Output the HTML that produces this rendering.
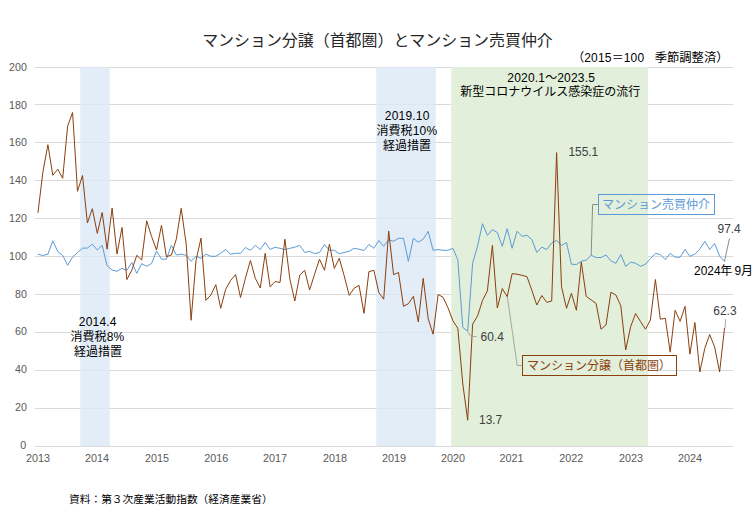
<!DOCTYPE html>
<html><head><meta charset="utf-8"><title>マンション分譲（首都圏）とマンション売買仲介</title>
<style>
html,body{margin:0;padding:0;background:#fff;}
svg{display:block;font-family:"Liberation Sans","Noto Sans CJK JP",sans-serif;}
</style></head><body>
<svg width="756" height="529" viewBox="0 0 756 529" role="img" aria-label="マンション分譲（首都圏）とマンション売買仲介">
<title>マンション分譲（首都圏）とマンション売買仲介</title>
<desc>（2015＝100　季節調整済） 2014.4 消費税8% 経過措置 / 2019.10 消費税10% 経過措置 / 2020.1～2023.5 新型コロナウイルス感染症の流行 / マンション売買仲介 97.4 (2024年9月) / マンション分譲（首都圏） 62.3 / 資料：第３次産業活動指数（経済産業省）</desc>
<rect width="756" height="529" fill="#ffffff"/>
<g style="opacity:0.999">
<g stroke="#d9d9d9" stroke-width="1" shape-rendering="crispEdges"><line x1="35.0" x2="733.0" y1="446.50" y2="446.50"/><line x1="35.0" x2="733.0" y1="408.50" y2="408.50"/><line x1="35.0" x2="733.0" y1="370.50" y2="370.50"/><line x1="35.0" x2="733.0" y1="332.50" y2="332.50"/><line x1="35.0" x2="733.0" y1="294.50" y2="294.50"/><line x1="35.0" x2="733.0" y1="256.50" y2="256.50"/><line x1="35.0" x2="733.0" y1="218.50" y2="218.50"/><line x1="35.0" x2="733.0" y1="180.50" y2="180.50"/><line x1="35.0" x2="733.0" y1="142.50" y2="142.50"/><line x1="35.0" x2="733.0" y1="104.50" y2="104.50"/><line x1="35.0" x2="733.0" y1="67.50" y2="67.50"/></g>
<rect x="80.2" y="67.0" width="29.6" height="379.0" fill="#dce8f6" fill-opacity="0.8"/>
<rect x="376.2" y="67.0" width="59.6" height="379.0" fill="#dce8f6" fill-opacity="0.8"/>
<rect x="451.2" y="67.0" width="196.7" height="379.0" fill="#e2efda"/>
<text x="26.3" y="448.70" font-size="10.67" fill="#595959" text-anchor="end">0</text>
<text x="26.9" y="410.91" font-size="10.67" fill="#595959" text-anchor="end">20</text>
<text x="26.9" y="373.12" font-size="10.67" fill="#595959" text-anchor="end">40</text>
<text x="26.9" y="335.33" font-size="10.67" fill="#595959" text-anchor="end">60</text>
<text x="26.9" y="297.54" font-size="10.67" fill="#595959" text-anchor="end">80</text>
<text x="26.9" y="259.75" font-size="10.67" fill="#595959" text-anchor="end">100</text>
<text x="26.9" y="221.96" font-size="10.67" fill="#595959" text-anchor="end">120</text>
<text x="26.9" y="184.17" font-size="10.67" fill="#595959" text-anchor="end">140</text>
<text x="26.9" y="146.38" font-size="10.67" fill="#595959" text-anchor="end">160</text>
<text x="26.9" y="108.59" font-size="10.67" fill="#595959" text-anchor="end">180</text>
<text x="26.9" y="70.80" font-size="10.67" fill="#595959" text-anchor="end">200</text>
<text x="37.90" y="462.2" font-size="10.8" fill="#595959" text-anchor="middle">2013</text>
<text x="97.10" y="462.2" font-size="10.8" fill="#595959" text-anchor="middle">2014</text>
<text x="157.00" y="462.2" font-size="10.8" fill="#595959" text-anchor="middle">2015</text>
<text x="216.20" y="462.2" font-size="10.8" fill="#595959" text-anchor="middle">2016</text>
<text x="275.10" y="462.2" font-size="10.8" fill="#595959" text-anchor="middle">2017</text>
<text x="335.00" y="462.2" font-size="10.8" fill="#595959" text-anchor="middle">2018</text>
<text x="393.90" y="462.2" font-size="10.8" fill="#595959" text-anchor="middle">2019</text>
<text x="452.90" y="462.2" font-size="10.8" fill="#595959" text-anchor="middle">2020</text>
<text x="511.60" y="462.2" font-size="10.8" fill="#595959" text-anchor="middle">2021</text>
<text x="571.20" y="462.2" font-size="10.8" fill="#595959" text-anchor="middle">2022</text>
<text x="631.00" y="462.2" font-size="10.8" fill="#595959" text-anchor="middle">2023</text>
<text x="690.00" y="462.2" font-size="10.8" fill="#595959" text-anchor="middle">2024</text>
<polyline points="38.0,254.2 42.9,255.5 47.9,254.2 52.8,240.8 57.8,251.7 62.7,255.3 67.6,265.3 72.6,257.0 77.5,252.6 82.5,248.2 87.4,248.0 92.3,244.3 97.3,250.0 102.2,245.4 107.1,265.8 112.1,270.0 117.0,271.3 122.0,268.3 126.9,270.3 131.8,262.5 136.8,273.3 141.7,263.7 146.7,266.3 151.6,263.5 156.5,251.0 161.5,259.2 166.4,259.2 171.4,245.3 176.3,255.0 181.2,254.2 186.2,255.3 191.1,261.3 196.0,256.3 201.0,258.3 205.9,254.2 210.9,256.3 215.8,256.3 220.7,253.3 225.7,249.5 230.6,254.2 235.6,253.3 240.5,253.3 245.4,247.5 250.4,250.3 255.3,245.3 260.3,249.5 265.2,242.5 270.1,249.4 275.1,247.3 280.0,248.3 284.9,249.5 289.9,248.3 294.8,247.2 299.8,245.3 304.7,252.5 309.6,251.3 314.6,253.7 319.5,252.5 324.5,244.5 329.4,250.3 334.3,250.3 339.3,253.7 344.2,252.5 349.2,251.2 354.1,248.3 359.0,249.2 364.0,250.5 368.9,244.5 373.9,248.3 378.8,240.5 383.7,246.3 388.7,239.7 393.6,241.3 398.5,238.3 403.5,238.3 408.4,261.3 413.4,238.3 418.3,242.2 423.2,239.2 428.2,231.3 433.1,250.3 438.1,249.5 443.0,250.3 447.9,250.3 452.9,248.3 457.8,259.7 462.8,327.5 467.7,331.2 472.6,263.3 477.6,245.8 482.5,223.7 487.4,235.3 492.4,229.7 497.3,232.5 502.3,246.3 507.2,228.7 512.1,248.3 517.1,231.3 522.0,236.3 527.0,235.3 531.9,239.7 536.8,252.5 541.8,247.2 546.7,249.5 551.7,243.0 556.6,240.3 561.5,245.5 566.5,242.5 571.4,264.2 576.4,264.5 581.3,261.3 586.2,260.0 591.2,255.3 596.1,257.5 601.0,257.5 606.0,255.0 610.9,260.8 615.9,263.3 620.8,254.5 625.7,266.3 630.7,262.2 635.6,263.3 640.6,266.3 645.5,264.2 650.4,258.7 655.4,253.3 660.3,254.5 665.3,259.5 670.2,253.3 675.1,257.2 680.1,257.2 685.0,249.4 689.9,256.4 694.9,254.2 699.8,249.0 704.8,241.3 709.7,249.4 714.6,243.4 719.6,256.0 724.5,261.4" fill="none" stroke="#5b9bd5" stroke-width="1.0" stroke-linejoin="round" stroke-linecap="round"/>
<polyline points="38.0,212.5 42.9,172.0 47.9,144.7 52.8,175.3 57.8,169.2 62.7,178.3 67.6,126.2 72.6,112.5 77.5,191.3 82.5,175.5 87.4,223.0 92.3,208.7 97.3,233.3 102.2,212.5 107.1,249.2 112.1,208.0 117.0,254.0 122.0,227.5 126.9,279.6 131.8,270.2 136.8,255.3 141.7,260.0 146.7,220.8 151.6,236.5 156.5,250.0 161.5,225.3 166.4,256.7 171.4,255.0 176.3,239.2 181.2,208.3 186.2,244.0 191.1,320.3 196.0,260.5 201.0,238.2 205.9,300.3 210.9,295.0 215.8,284.7 220.7,308.3 225.7,289.2 230.6,280.5 235.6,274.6 240.5,297.5 245.4,278.3 250.4,260.5 255.3,278.3 260.3,288.0 265.2,253.3 270.1,286.8 275.1,281.5 280.0,282.5 284.9,239.2 289.9,279.2 294.8,301.0 299.8,275.0 304.7,270.3 309.6,290.0 314.6,274.2 319.5,259.2 324.5,270.3 329.4,244.2 334.3,268.3 339.3,258.3 344.2,275.8 349.2,295.3 354.1,288.3 359.0,285.3 364.0,313.3 368.9,271.7 373.9,270.3 378.8,292.5 383.7,299.2 388.7,231.2 393.6,274.7 398.5,272.5 403.5,306.3 408.4,303.7 413.4,296.3 418.3,322.0 423.2,278.3 428.2,318.7 433.1,334.2 438.1,294.5 443.0,297.2 447.9,307.5 452.9,320.8 457.8,328.3 462.8,384.0 467.7,420.2 472.6,324.2 477.6,315.8 482.5,300.5 487.4,290.8 492.4,245.3 497.3,308.0 502.3,288.5 507.2,296.7 512.1,273.7 517.1,274.2 522.0,275.3 527.0,276.7 531.9,290.5 536.8,305.0 541.8,295.5 546.7,302.3 551.7,301.0 556.6,152.6 561.5,286.7 566.5,308.3 571.4,293.3 576.4,310.3 581.3,262.0 586.2,296.3 591.2,300.0 596.1,303.5 601.0,329.2 606.0,325.0 610.9,292.2 615.9,295.0 620.8,305.8 625.7,350.0 630.7,326.5 635.6,313.5 640.6,321.7 645.5,329.2 650.4,320.0 655.4,279.5 660.3,319.2 665.3,318.3 670.2,352.2 675.1,310.3 680.1,321.3 685.0,306.3 689.9,354.2 694.9,322.5 699.8,372.0 704.8,348.3 709.7,334.6 714.6,346.8 719.6,372.0 724.5,328.3" fill="none" stroke="#8a3f0d" stroke-width="1.0" stroke-linejoin="round" stroke-linecap="round"/>
<g fill="none" stroke="#a6a6a6" stroke-width="1"><polyline points="467.5,331.2 470.8,336.5 476.7,336.5"/><polyline points="507.3,296.7 517.2,365.5 522.2,365.5"/><polyline points="591.2,255.3 592.6,204.5 598.3,204.5" stroke="#8c8c8c"/><polyline points="724.5,261.4 729.5,238.3" stroke="#8c8c8c"/><polyline points="725,328.3 725.6,319.2"/></g>
<rect x="598.5" y="194.5" width="116" height="20" fill="none" stroke="#5b9bd5" stroke-width="1"/>
<rect x="522.5" y="355.5" width="154" height="20" fill="none" stroke="#8a3f0d" stroke-width="1"/>
<text transform="translate(568.40 155.90) scale(0.963 1)" font-size="12.40" fill="#404040">155.1</text>
<text transform="translate(480.60 340.90) scale(0.963 1)" font-size="12.40" fill="#404040">60.4</text>
<text transform="translate(479.00 423.70) scale(0.963 1)" font-size="12.40" fill="#404040">13.7</text>
<text transform="translate(717.50 232.80) scale(0.963 1)" font-size="12.40" fill="#404040">97.4</text>
<text transform="translate(713.30 315.00) scale(0.963 1)" font-size="12.40" fill="#404040">62.3</text>
<text transform="translate(694.00 275.00) scale(0.963 1)" font-size="12.40" fill="#000000">2024</text>
<text x="720.30" y="275.00" font-size="12.00" fill="#000000">年</text>
<text transform="translate(734.50 275.00) scale(0.963 1)" font-size="12.40" fill="#000000">9</text>
<text x="741.00" y="275.00" font-size="12.00" fill="#000000">月</text>
<text x="78.85" y="326.20" font-size="12.00" fill="#000000" letter-spacing="0.20">2014.4</text>
<text x="70.39" y="340.78" font-size="12.00" fill="#000000">消費税</text>
<text x="106.63" y="341.10" font-size="12.00" fill="#000000" letter-spacing="0.20">8%</text>
<text x="74.06" y="355.68" font-size="12.00" fill="#000000">経過措置</text>
<text x="384.81" y="120.20" font-size="12.00" fill="#000000" letter-spacing="0.20">2019.10</text>
<text x="376.45" y="134.78" font-size="12.00" fill="#000000">消費税</text>
<text x="412.69" y="135.10" font-size="12.00" fill="#000000" letter-spacing="0.20">10%</text>
<text x="382.96" y="149.68" font-size="12.00" fill="#000000">経過措置</text>
<text x="507.30" y="82.10" font-size="12.00" fill="#000000" letter-spacing="0.20">2020.1</text>
<text x="545.20" y="82.10" font-size="12.00" fill="#000000">～</text>
<text x="557.20" y="82.10" font-size="12.00" fill="#000000" letter-spacing="0.20">2023.5</text>
<text x="460.26" y="96.38" font-size="12.00" fill="#000000">新型コロナウイルス感染症の流行</text>
<text x="601.90" y="208.50" font-size="12.00" fill="#5b9bd5">マンション売買仲介</text>
<text x="526.90" y="369.50" font-size="12.00" fill="#8a3f0d">マンション分譲（首都圏）</text>
<text x="202.15" y="45.90" font-size="15.95" fill="#262626">マンション分譲（首都圏）とマンション売買仲介</text>
<text x="572.18" y="61.50" font-size="12.00" fill="#000000">（</text>
<text x="584.18" y="61.50" font-size="12.00" fill="#000000" letter-spacing="0.20">2015</text>
<text x="611.68" y="61.50" font-size="12.00" fill="#000000">＝</text>
<text x="623.68" y="61.50" font-size="12.00" fill="#000000" letter-spacing="0.20">100</text>
<text x="654.70" y="61.60" font-size="12.30" fill="#000000">季節調整済）</text>
<text x="68.99" y="502.86" font-size="10.72" fill="#000000">資料：第３次産業活動指数（経済産業省）</text>
</g>
</svg>
</body></html>
